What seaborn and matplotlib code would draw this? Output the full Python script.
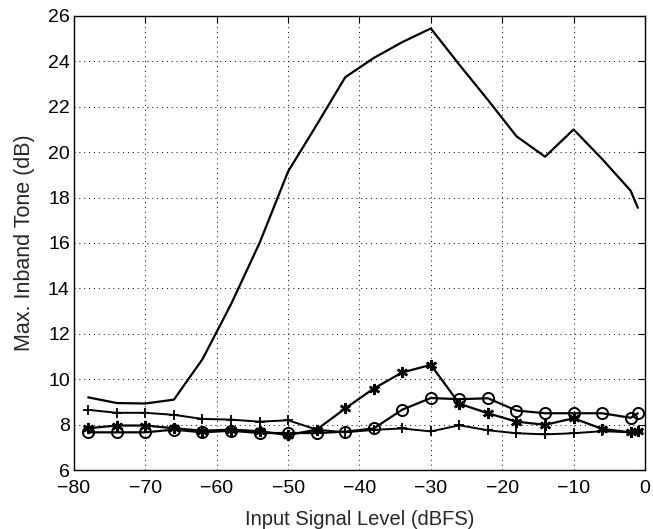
import matplotlib
matplotlib.use("Agg")
import matplotlib.pyplot as plt
import seaborn as sns
import pandas as pd

input_level = [-78, -74, -70, -66, -62, -58, -54, -50, -46, -42, -38,
               -34, -30, -26, -22, -18, -14, -10, -6, -2, -1]
tone_plain = [9.2, 8.95, 8.93, 9.1, 10.88, 13.3, 16.0, 19.15, 21.2, 23.3, 24.15,
              24.85, 25.45, 23.85, 22.3, 20.7, 19.8, 21.0, 19.7, 18.3, 17.55]
tone_plus = [8.65, 8.52, 8.52, 8.43, 8.25, 8.22, 8.13, 8.19, 7.78, 7.66, 7.77,
             7.83, 7.7, 7.97, 7.75, 7.62, 7.57, 7.62, 7.71, 7.66, 7.69]
tone_star = [7.84, 7.96, 7.96, 7.84, 7.73, 7.78, 7.71, 7.54, 7.78, 8.71, 9.59,
             10.3, 10.63, 8.92, 8.5, 8.13, 7.99, 8.28, 7.81, 7.66, 7.7]
tone_circle = [7.66, 7.66, 7.66, 7.78, 7.66, 7.73, 7.63, 7.63, 7.63, 7.69, 7.83,
               8.66, 9.17, 9.12, 9.16, 8.62, 8.5, 8.5, 8.5, 8.3, 8.5]

x_ticks = [-80, -70, -60, -50, -40, -30, -20, -10, 0]
y_ticks = [6, 8, 10, 12, 14, 16, 18, 20, 22, 24, 26]

sns.set_style("white")
plt.rcParams['font.family'] = ['Liberation Sans', 'DejaVu Sans']

df = pd.DataFrame({"x": input_level, "plain": tone_plain, "plus": tone_plus,
                   "star": tone_star, "circle": tone_circle})

fig = plt.figure(figsize=(6.53, 5.29), dpi=100)
ax = fig.add_axes([0.1133, 0.1115, 0.8744, 0.8583])

sns.lineplot(data=df, x="x", y="plain", ax=ax, color="black", linewidth=1.6)
sns.lineplot(data=df, x="x", y="plus", ax=ax, color="black", linewidth=1.4,
             marker="+", markersize=7, markeredgewidth=1.3,
             markeredgecolor="black")
sns.lineplot(data=df, x="x", y="star", ax=ax, color="black", linewidth=1.6,
             marker=(6, 2, 0), markersize=8, markeredgewidth=1.8,
             markeredgecolor="black")
sns.lineplot(data=df, x="x", y="circle", ax=ax, color="black", linewidth=1.6,
             marker="o", markersize=8, markerfacecolor="none",
             markeredgecolor="black", markeredgewidth=1.4)

ax.set_xlim(-80, 0)
ax.set_ylim(6, 26)
ax.set_xticks(x_ticks)
ax.set_yticks(y_ticks)
ax.set_xticklabels([str(t).replace('-', '\u2212') for t in x_ticks])
ax.grid(True, linestyle=(0, (1, 4)), color="black", linewidth=0.7)
ax.tick_params(direction="in", top=True, right=True, length=5, width=0.8,
               labelsize=14, colors="black")
ax.tick_params(axis="x", pad=7)
ax.tick_params(axis="y", pad=3)
for s in ax.spines.values():
    s.set_color("black")
    s.set_linewidth(1.0)
ax.set_xlabel("Input Signal Level (dBFS)", fontsize=14.5, labelpad=9.5)
ax.set_ylabel("Max. Inband Tone (dB)", fontsize=15.5, labelpad=9)

fig.savefig("out.png", dpi=100)
